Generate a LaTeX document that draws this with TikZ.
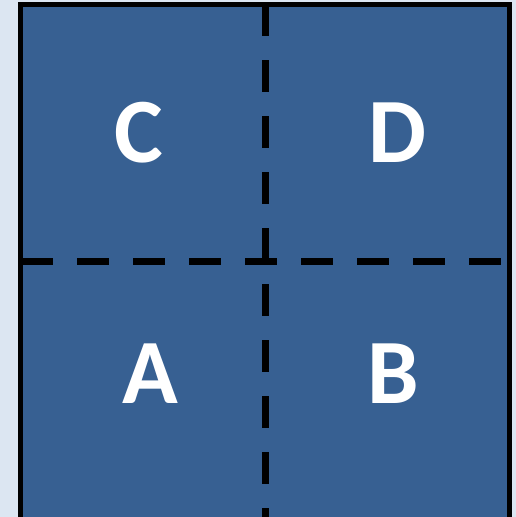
\documentclass[tikz,border=0pt]{standalone}
\usepackage{fontspec}
\setmainfont{Carlito}
\definecolor{bgc}{HTML}{DCE6F2}
\definecolor{boxc}{HTML}{376092}
\begin{document}
\begin{tikzpicture}[x=1pt,y=1pt,
  lbl/.style={text=white,font=\fontsize{92}{92}\selectfont\bfseries,inner sep=0pt,anchor=base},
  divider/.style={line width=7pt,dash pattern=on 32pt off 24pt}]
\clip (0,0) rectangle (516,517);
\fill[bgc] (0,0) rectangle (516,517);
\fill[boxc] (20.5,-20) rectangle (509,512.5);
\coordinate (hl) at (21,255);
\coordinate (hr) at (509,255);
\coordinate (vt) at (265,512.5);
\coordinate (vb) at (265,-20);
\draw[divider] (hl) -- (hr);
\draw[divider] (vt) -- (vb);
\draw[line width=5pt] (20.5,-20) -- (20.5,512.5) -- (509,512.5) -- (509,-20);
\node[lbl] (C) at (139,354) {C};
\node[lbl] (D) at (397.5,354) {D};
\node[lbl] (A) at (150,113) {A};
\node[lbl] (B) at (393,113) {B};
\end{tikzpicture}
\end{document}
